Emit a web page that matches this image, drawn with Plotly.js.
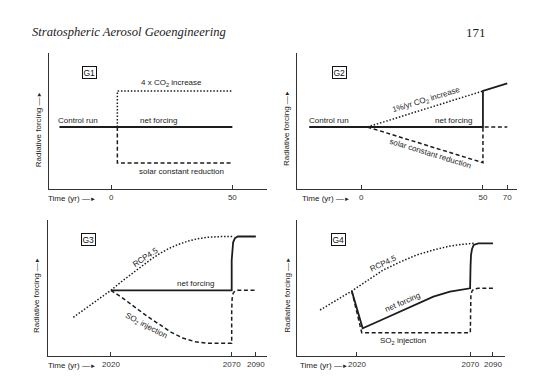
<!DOCTYPE html>
<html><head><meta charset="utf-8">
<script src="https://cdn.plot.ly/plotly-3.0.1.min.js"></script>
<style>html,body{margin:0;padding:0;background:#fff}</style>
</head><body><div id="chart" style="width:560px;height:381px"></div>
<script>
// ---------- data (years, arbitrary forcing units) ----------
const g1TickVals = [0, 50];
const g1TickText = ['0', '50'];
const g1NetX = [-21.4, 50];
const g1NetY = [0, 0];
const g1Co2X = [2.5, 2.5, 50];
const g1Co2Y = [0, 36, 36];
const g1SolarX = [2.5, 2.5, 50];
const g1SolarY = [0, -36, -36];

const g2TickVals = [0, 50, 70];
const g2TickText = ['0', '50', '70'];
const g2NetX = [-21.4, 50, 50, 70];
const g2NetY = [0, 0, 36, 43.7];
const g2Co2X = [2.5, 50];
const g2Co2Y = [0, 36];
const g2SolarX = [2.5, 50, 50, 70];
const g2SolarY = [0, -35.7, 0, 0];

const g3TickVals = [2020, 2070, 2090];
const g3TickText = ['2020', '2070', '2090'];
const g3RcpX = [2004.4, 2008, 2012, 2016, 2020, 2024, 2028, 2032, 2036, 2040, 2044, 2048, 2052, 2056, 2060, 2065, 2070, 2072];
const g3RcpY = [-27, -20.8, -13.9, -6.9, 0, 8, 15.5, 23, 30, 36.5, 41.8, 46, 49.3, 51.6, 53, 53.7, 53.8, 53.8];
const g3NetX = [2020, 2070, 2070, 2070.4, 2071.2, 2072.6, 2075, 2090];
const g3NetY = [0, 0, 30, 42, 48, 52, 53.8, 53.8];
const g3So2X = [2020, 2025, 2030, 2035, 2040, 2045, 2050, 2055, 2060, 2065, 2070, 2070, 2070.4, 2071.2, 2072.6, 2075, 2090];
const g3So2Y = [0, -8, -17, -26, -34, -42, -48, -51.5, -53, -53, -53, -20, -8, -3, -0.8, 0, 0];

const g4TickVals = [2020, 2070, 2090];
const g4TickText = ['2020', '2070', '2090'];
const g4RcpX = [2003.7, 2010, 2017.7, 2025, 2031.6, 2039, 2046.3, 2054, 2061, 2066, 2070, 2073];
const g4RcpY = [-19, -10.5, 0, 11, 21, 29, 36, 41.2, 45, 46.6, 47.3, 47.7];
const g4NetX = [2017.7, 2022.5, 2030, 2039, 2046, 2053.7, 2061, 2069.9, 2070.2, 2070.6, 2071.5, 2073, 2077, 2090];
const g4NetY = [0, -37.3, -29.8, -20.7, -13, -5.7, -0.7, 2.7, 25, 36, 42, 46, 47.7, 47.7];
const g4So2X = [2017.7, 2022.1, 2070, 2070, 2070.5, 2071.5, 2073, 2077, 2090];
const g4So2Y = [0, -41.7, -41.7, -15, -4, 0, 2, 2.7, 2.7];

// ---------- broken time axis: the last 20 years are drawn at half scale ----------
function brk(b) { return t => (t <= b ? t : b + (t - b) / 2); }
const b1 = brk(50), b2 = brk(2070);

const INK = '#1c1c1c';
const solid = {color: INK, width: 1.8};
const dotted = {color: INK, width: 1.5, dash: '1.5px,1.8px'};
const dashed = {color: INK, width: 1.5, dash: '4px,2.6px'};

function tr(xs, ys, line, ax, f) {
  return {x: f ? xs.map(f) : xs, y: ys, mode: 'lines', line: line,
          xaxis: 'x' + ax, yaxis: 'y' + ax, hoverinfo: 'skip', showlegend: false};
}
const data = [
  tr(g1NetX, g1NetY, solid, ''), tr(g1Co2X, g1Co2Y, dotted, ''), tr(g1SolarX, g1SolarY, dashed, ''),
  tr(g2Co2X, g2Co2Y, dotted, '2', b1), tr(g2SolarX, g2SolarY, dashed, '2', b1), tr(g2NetX, g2NetY, solid, '2', b1),
  tr(g3RcpX, g3RcpY, dotted, '3', b2), tr(g3So2X, g3So2Y, dashed, '3', b2), tr(g3NetX, g3NetY, solid, '3', b2),
  tr(g4RcpX, g4RcpY, dotted, '4', b2), tr(g4So2X, g4So2Y, dashed, '4', b2), tr(g4NetX, g4NetY, solid, '4', b2)
];

const W = 560, H = 381;
const FONT = 'Liberation Sans, Arial, sans-serif';
function xa(dom, range, vals, text, anchor) {
  return {domain: [dom[0] / W, dom[1] / W], range: range, anchor: anchor,
          tickvals: vals, ticktext: text, ticks: 'inside', ticklen: 4, tickwidth: 1, tickcolor: '#333',
          showline: true, linecolor: '#333', linewidth: 1, showgrid: false, zeroline: false,
          tickfont: {family: FONT, size: 8, color: '#333'}, fixedrange: true};
}
function ya(dom, range, anchor) {
  return {domain: [1 - dom[1] / H, 1 - dom[0] / H], range: range, anchor: anchor,
          showline: true, linecolor: '#333', linewidth: 1, showgrid: false, zeroline: false,
          showticklabels: false, ticks: '', fixedrange: true};
}

function A(text, x, y, o) {
  return Object.assign({text: text, x: x / W, y: 1 - y / H, xref: 'paper', yref: 'paper',
    showarrow: false, xanchor: 'center', yanchor: 'middle',
    font: {family: FONT, size: 8, color: '#222'}}, o || {});
}
function box(t, x, y) {
  return A(t, x, y, {font: {family: FONT, size: 8.5, color: '#111'}, bordercolor: '#111', borderwidth: 1, borderpad: 0.5});
}
const ARROW = '\u2014<span style="font-size:6px">\u25BA</span>';
const ylab = 'Radiative forcing ' + ARROW;
const xlab = 'Time (yr) ' + ARROW;

const annotations = [
  A('Stratospheric Aerosol Geoengineering', 30, 32, {xanchor: 'left', font: {family: 'Liberation Serif, serif', size: 12.6, color: '#222', style: 'italic'}}),
  A('171', 475.5, 32, {font: {family: 'Liberation Serif, serif', size: 13, color: '#222'}}),
  // G1
  box('G1', 89, 73),
  A('4 x CO<sub>2</sub> increase', 171, 83),
  A('Control run', 78.3, 121),
  A('net forcing', 158.7, 121),
  A('solar constant reduction', 181.3, 171),
  A(ylab, 38.3, 129, {textangle: -90}),
  A(xlab, 71.7, 198),
  // G2
  box('G2', 339.3, 72.7),
  A('Control run', 328.8, 121),
  A('net forcing', 453.3, 121),
  A('1%/yr CO<sub>2</sub> increase', 426.7, 100, {textangle: -17}),
  A('solar constant reduction', 430, 153.3, {textangle: 17}),
  A(ylab, 286.7, 128.3, {textangle: -90}),
  A(xlab, 325.8, 198),
  // G3
  box('G3', 88.3, 239.3),
  A('RCP4.5', 145, 257, {textangle: -33}),
  A('net forcing', 195, 283.3),
  A('SO<sub>2</sub> injection', 146, 326, {textangle: 28}),
  A(ylab, 36, 295, {textangle: -90}),
  A(xlab, 71.7, 365),
  // G4
  box('G4', 338.3, 239.3),
  A('RCP4.5', 383.3, 263.3, {textangle: -25}),
  A('net forcing', 402.3, 302.7, {textangle: -23}),
  A('SO<sub>2</sub> injection', 402.5, 341),
  A(ylab, 286.7, 295, {textangle: -90}),
  A(xlab, 323.8, 365)
];

const layout = {
  width: W, height: H, margin: {l: 0, r: 0, t: 0, b: 0},
  paper_bgcolor: '#fff', plot_bgcolor: 'rgba(0,0,0,0)', showlegend: false,
  xaxis:  xa([49.3, 267], [-25.6, 64.3], g1TickVals, g1TickText, 'y'),
  yaxis:  ya([53, 189], [-62, 74], 'x'),
  xaxis2: xa([297.3, 517], [-26.3, 64.0], g2TickVals.map(b1), g2TickText, 'y2'),
  yaxis2: ya([53, 189], [-62, 74], 'x2'),
  xaxis3: xa([47.7, 266.7], [1993.8, 2084.5], g3TickVals.map(b2), g3TickText, 'y3'),
  yaxis3: ya([220, 356], [-65.7, 70.3], 'x3'),
  xaxis4: xa([296.7, 505], [1993.4, 2085.3], g4TickVals.map(b2), g4TickText, 'y4'),
  yaxis4: ya([220, 356], [-65, 71], 'x4'),
  annotations: annotations
};
Plotly.newPlot('chart', data, layout, {staticPlot: true, displayModeBar: false});
</script></body></html>
